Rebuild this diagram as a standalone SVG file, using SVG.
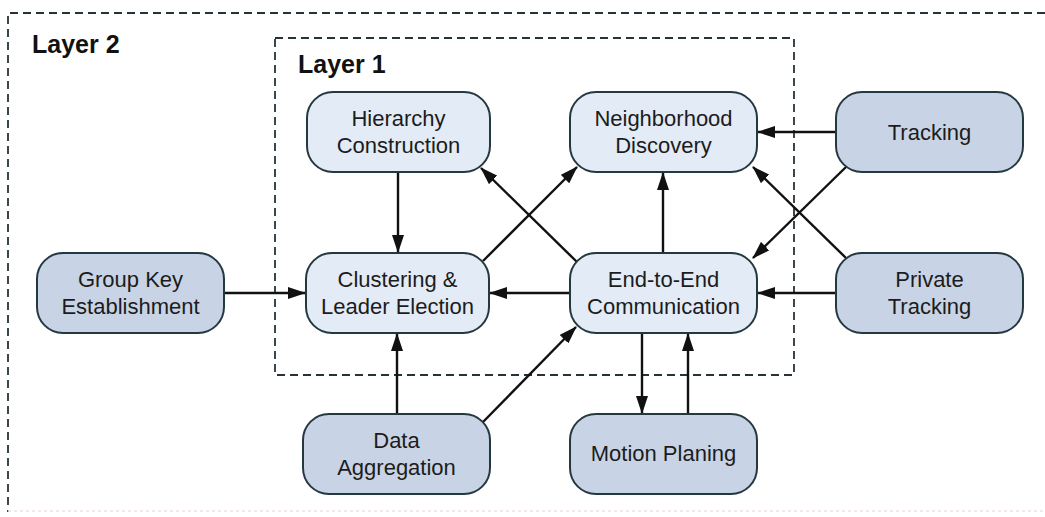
<svg xmlns="http://www.w3.org/2000/svg" width="1045" height="517" viewBox="0 0 1045 517">
<style>
.layer{fill:none;stroke:#26343a;stroke-width:1.8;stroke-dasharray:8,5}
.lt{font-family:"Liberation Sans",Arial,sans-serif;font-weight:bold;font-size:25px;fill:#111}
.n1 rect{fill:#e3ebf6;stroke:#243840;stroke-width:2}
.n2 rect{fill:#c8d4e6;stroke:#243840;stroke-width:2}
.node text{font-family:"Liberation Sans",Arial,sans-serif;font-size:22px;fill:#1c1c1c;text-anchor:middle}
.edges line{stroke:#111;stroke-width:2.4;marker-end:url(#ah)}
</style>
<defs>
<marker id="ah" viewBox="0 0 18 12" refX="17" refY="6" markerWidth="18" markerHeight="12" markerUnits="userSpaceOnUse" orient="auto">
<path d="M0,0 L18,6 L0,12 Z" fill="#111"/>
</marker>
</defs>
<rect width="1045" height="517" fill="#ffffff"/>
<g id="layer2">
<path class="layer" d="M1045,13 H8 V512"/>
<line x1="8" y1="511" x2="1045" y2="511" stroke="#efe3df" stroke-width="1.5" stroke-dasharray="3,3"/>
<text class="lt" x="32" y="53">Layer 2</text>
</g>
<g id="layer1">
<rect class="layer" x="275" y="38" width="519" height="337"/>
<text class="lt" x="298" y="73">Layer 1</text>
</g>
<g class="edges" id="connectors">
<line x1="398" y1="172" x2="398" y2="252"/>
<line x1="483" y1="261" x2="577" y2="167"/>
<line x1="577" y1="262" x2="481" y2="168"/>
<line x1="663" y1="253" x2="663" y2="173"/>
<line x1="836" y1="132" x2="758" y2="132"/>
<line x1="846" y1="167" x2="753" y2="258"/>
<line x1="846" y1="258" x2="753" y2="167"/>
<line x1="836" y1="293" x2="758" y2="293"/>
<line x1="570" y1="293" x2="490" y2="293"/>
<line x1="224" y1="293" x2="305" y2="293"/>
<line x1="397" y1="414" x2="397" y2="334"/>
<line x1="483" y1="422" x2="576" y2="327"/>
<line x1="642" y1="333" x2="642" y2="413"/>
<line x1="688" y1="414" x2="688" y2="334"/>
</g>
<g id="hierarchy" class="node n1">
<rect x="307" y="92" width="183" height="80" rx="26"/>
<text x="398.5" y="126">Hierarchy</text>
<text x="398.5" y="153">Construction</text>
</g>
<g id="neighborhood" class="node n1">
<rect x="570" y="92" width="187" height="80" rx="26"/>
<text x="663.5" y="126">Neighborhood</text>
<text x="663.5" y="153">Discovery</text>
</g>
<g id="tracking" class="node n2">
<rect x="836" y="92" width="187" height="80" rx="26"/>
<text x="929.5" y="140">Tracking</text>
</g>
<g id="groupkey" class="node n2">
<rect x="37" y="253" width="187" height="80" rx="26"/>
<text x="130.5" y="287">Group Key</text>
<text x="130.5" y="314">Establishment</text>
</g>
<g id="clustering" class="node n1">
<rect x="306" y="253" width="183" height="80" rx="26"/>
<text x="397.5" y="287">Clustering &amp;</text>
<text x="397.5" y="314">Leader Election</text>
</g>
<g id="endtoend" class="node n1">
<rect x="570" y="253" width="187" height="80" rx="26"/>
<text x="663.5" y="287">End-to-End</text>
<text x="663.5" y="314">Communication</text>
</g>
<g id="privatetracking" class="node n2">
<rect x="836" y="253" width="187" height="80" rx="26"/>
<text x="929.5" y="287">Private</text>
<text x="929.5" y="314">Tracking</text>
</g>
<g id="dataaggregation" class="node n2">
<rect x="303" y="414" width="187" height="80" rx="26"/>
<text x="396.5" y="448">Data</text>
<text x="396.5" y="475">Aggregation</text>
</g>
<g id="motionplaning" class="node n2">
<rect x="570" y="414" width="187" height="80" rx="26"/>
<text x="663.5" y="461">Motion Planing</text>
</g>
</svg>
